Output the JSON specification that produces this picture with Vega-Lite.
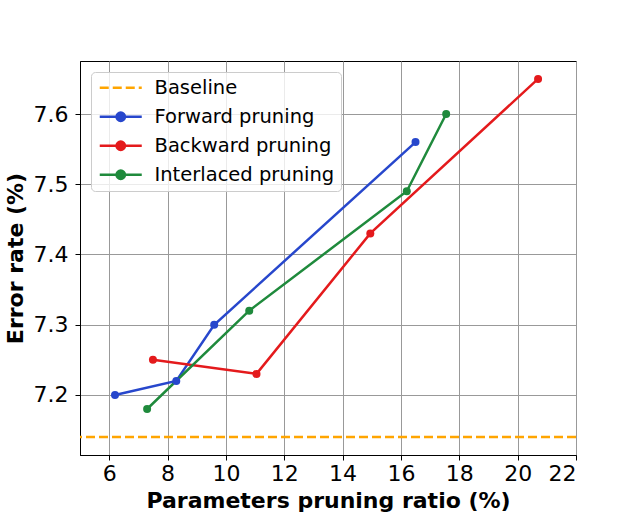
{
  "$schema": "https://vega.github.io/schema/vega-lite/v6.json",
  "width": 496,
  "height": 394,
  "autosize": {"type": "none"},
  "padding": {"left": 80, "top": 61, "right": 64, "bottom": 57},
  "background": "white",
  "config": {
    "font": "DejaVu Sans",
    "view": {"stroke": "black", "strokeWidth": 1},
    "axis": {
      "labelFont": "DejaVu Sans",
      "labelFontSize": 22,
      "labelColor": "black",
      "titleFont": "DejaVu Sans",
      "titleFontSize": 22,
      "titleFontWeight": "bold",
      "titleColor": "black",
      "tickColor": "black",
      "tickSize": 5,
      "domainColor": "black",
      "gridColor": "#999999",
      "gridWidth": 1,
      "gridOpacity": 1
    }
  },
  "datasets": {
    "series": [
      {"series": "Forward pruning", "x": 6.2, "y": 7.2},
      {"series": "Forward pruning", "x": 8.3, "y": 7.22},
      {"series": "Forward pruning", "x": 9.6, "y": 7.3},
      {"series": "Forward pruning", "x": 16.5, "y": 7.56},
      {"series": "Backward pruning", "x": 7.5, "y": 7.25},
      {"series": "Backward pruning", "x": 11.05, "y": 7.23},
      {"series": "Backward pruning", "x": 14.95, "y": 7.43},
      {"series": "Backward pruning", "x": 20.7, "y": 7.65},
      {"series": "Interlaced pruning", "x": 7.3, "y": 7.18},
      {"series": "Interlaced pruning", "x": 10.8, "y": 7.32},
      {"series": "Interlaced pruning", "x": 16.2, "y": 7.49},
      {"series": "Interlaced pruning", "x": 17.55, "y": 7.6}
    ],
    "baseline": [
      {"series": "Baseline", "y": 7.14}
    ]
  },
  "layer": [
    {
      "data": {"name": "baseline"},
      "mark": {"type": "rule", "strokeWidth": 2.5, "strokeDash": [9, 4]},
      "encoding": {
        "y": {"field": "y", "type": "quantitative"},
        "color": {"field": "series", "type": "nominal"}
      }
    },
    {
      "data": {"name": "series"},
      "mark": {"type": "line", "strokeWidth": 2.5},
      "encoding": {
        "x": {
          "field": "x", "type": "quantitative",
          "scale": {"domain": [5, 22], "nice": false, "zero": false},
          "axis": {"values": [6, 8, 10, 12, 14, 16, 18, 20, 22], "title": "Parameters pruning ratio (%)", "labelPadding": 3, "titlePadding": 6}
        },
        "y": {
          "field": "y", "type": "quantitative",
          "scale": {"domain": [7.1145, 7.6755], "nice": false, "zero": false},
          "axis": {"values": [7.2, 7.3, 7.4, 7.5, 7.6], "format": ".1f", "title": "Error rate (%)", "labelPadding": 7, "titlePadding": 6}
        },
        "color": {
          "field": "series", "type": "nominal",
          "scale": {
            "domain": ["Baseline", "Forward pruning", "Backward pruning", "Interlaced pruning"],
            "range": ["#ffa500", "#2747cc", "#e41a1c", "#1f8a3c"]
          },
          "legend": {
            "title": null,
            "orient": "top-left",
            "offset": 11,
            "padding": 6,
            "rowPadding": 8,
            "labelFont": "DejaVu Sans",
            "labelFontSize": 19.5,
            "labelColor": "black",
            "labelLimit": 400,
            "labelOffset": 38,
            "symbolOffset": 0,
            "strokeColor": "#cccccc",
            "fillColor": "rgba(255,255,255,0.8)",
            "cornerRadius": 4,
            "encode": {
              "symbols": {
                "update": {
                  "shape": {"signal": "datum.value === 'Baseline' ? 'M-1,0L5,0' : 'M-1,0L5,0M2.6,0A0.6,0.6 0 1,1 1.4,0A0.6,0.6 0 1,1 2.6,0Z'"},
                  "strokeDash": {"signal": "datum.value === 'Baseline' ? [9,4] : []"},
                  "fill": {"signal": "datum.value === 'Baseline' ? 'transparent' : scale('color', datum.value)"},
                  "stroke": {"signal": "scale('color', datum.value)"},
                  "strokeWidth": {"value": 2.5},
                  "size": {"value": 196},
                  "opacity": {"value": 1}
                }
              }
            }
          }
        }
      }
    },
    {
      "data": {"name": "series"},
      "mark": {"type": "point", "filled": true, "size": 64, "opacity": 1},
      "encoding": {
        "x": {"field": "x", "type": "quantitative"},
        "y": {"field": "y", "type": "quantitative"},
        "color": {"field": "series", "type": "nominal"}
      }
    }
  ]
}
